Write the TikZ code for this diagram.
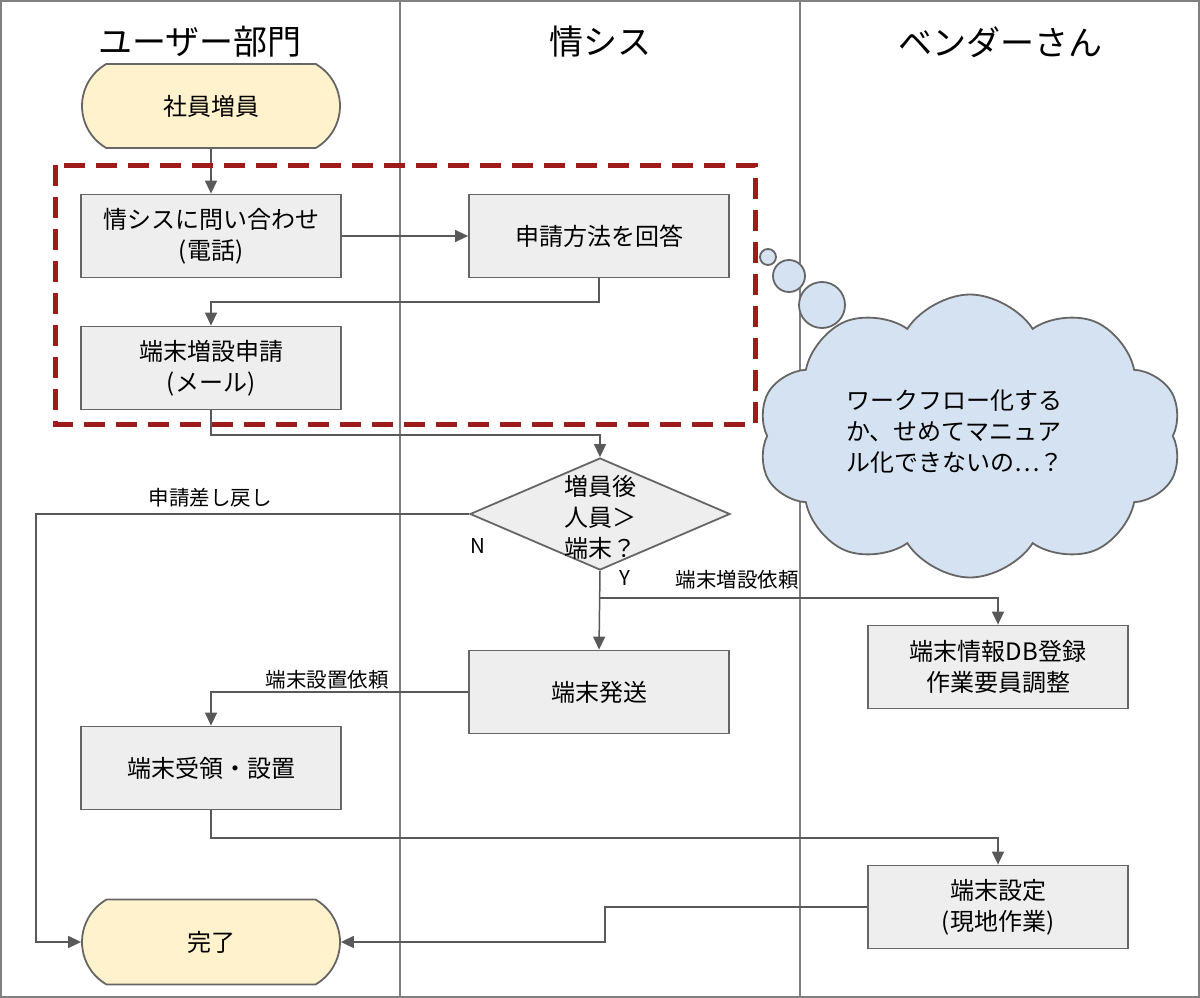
\documentclass[tikz,border=0pt]{standalone}
\usepackage{fontspec}
\setmainfont{Noto Sans CJK JP}
\usetikzlibrary{shapes.geometric,shapes.misc,shapes.symbols,arrows.meta}
\definecolor{lnc}{HTML}{595959}
\definecolor{bdc}{HTML}{666666}
\definecolor{boxfill}{HTML}{EEEEEE}
\definecolor{termfill}{HTML}{FFF2CC}
\definecolor{cloudfill}{HTML}{D5E2F1}
\definecolor{dashred}{HTML}{9C1B1B}
\definecolor{lanec}{HTML}{808080}
\tikzset{
  boxtxt/.style={font=\fontsize{24}{31}\selectfont, align=center},
  procbox/.style={boxtxt, draw=bdc, line width=1.8pt, fill=boxfill, minimum width=260pt, minimum height=83pt, inner sep=2pt},
  termbox/.style={boxtxt, rounded rectangle, rounded rectangle arc length=120, draw=bdc, line width=1.8pt, fill=termfill, minimum width=262pt, minimum height=84pt, inner sep=2pt},
  decbox/.style={diamond, draw=bdc, line width=1.8pt, fill=boxfill, minimum width=260pt, minimum height=112pt, inner sep=0pt},
  conn/.style={draw=lnc, line width=1.5pt},
  arr/.style={conn, -{Triangle[length=13pt,width=12pt]}},
  lbl/.style={font=\fontsize{20.5}{24}\selectfont, text=black, inner sep=1pt},
  hdr/.style={font=\fontsize{34}{40}\selectfont},
  cloudsty/.style={draw=bdc, line width=1.8pt, fill=cloudfill},
  lane/.style={draw=lanec, line width=1.8pt}
}
\begin{document}
\begin{tikzpicture}[x=1pt,y=-1pt]
\useasboundingbox (0,0) rectangle (1200,998);
\fill[white] (0,0) rectangle (1200,998);
% lanes
\draw[lane] (1,1) rectangle (1199,997);
\draw[lane] (400,0) -- (400,998);
\draw[lane] (800,0) -- (800,998);
\node[hdr] (h1) at (200,42) {ユーザー部門};
\node[hdr] (h2) at (600,42) {情シス};
\node[hdr] (h3) at (1000,42) {ベンダーさん};

% nodes
\node[termbox] (s1) at (211,106) {社員増員};
\node[procbox] (q1) at (211,236) {情シスに問い合わせ\\(電話)};
\node[procbox] (a1) at (599,236) {申請方法を回答};
\node[procbox] (r1) at (211,368) {端末増設申請\\(メール)};
\node[decbox] (d1) at (600,514) {};
\node[boxtxt, inner sep=0pt] (d1t) at (600,517) {増員後\\人員＞\\端末？};
\node[procbox] (ship) at (599,692) {端末発送};
\node[procbox] (vdb) at (998,667) {端末情報DB登録\\作業要員調整};
\node[procbox] (recv) at (211,768) {端末受領・設置};
\node[procbox] (vset) at (998,907) {端末設定\\(現地作業)};
\node[termbox, minimum height=85pt] (done) at (211,942) {完了};

% connectors
\draw[arr] (s1.south) -- (q1.north);
\draw[arr] (q1.east) -- (a1.west);
\draw[arr] (a1.south) -- (a1.south |- 0,302) -| (r1.north);
\draw[arr] (r1.south) -- (r1.south |- 0,435) -| (d1.north);
\draw[arr] (d1.west) -- (d1.west -| 36,0) |- (done.west);
\draw[arr] (d1.south) -- (ship.north);
\coordinate (yb) at (d1.south |- 0,598);
\draw[arr] (yb) -| (vdb.north);
\draw[arr] (ship.west) -| (recv.north);
\draw[arr] (recv.south) -- (recv.south |- 0,838) -| (vset.north);
\draw[arr] (vset.west) -- (vset.west -| 605,0) |- (done.east);

% labels
\node[lbl] (l1) at (210,498) {申請差し戻し};
\node[lbl] (lN) at (478,546) {N};
\node[lbl] (lY) at (625,578) {Y};
\node[lbl] (l2) at (737,580) {端末増設依頼};
\node[lbl] (l3) at (327,680) {端末設置依頼};

% dashed group
\draw[dashred, line width=5pt, dash pattern=on 21pt off 11pt] (55,165) rectangle (755,424);

% cloud
\node[cloud, cloudsty, cloud puffs=10, cloud puff arc=115, aspect=1.5, minimum width=424pt, minimum height=283pt] (cl) at (970,436) {};
\draw[cloudsty] (768,257) circle (8pt);
\draw[cloudsty] (789,276) circle (16pt);
\draw[cloudsty] (822,305) circle (23pt);
\node[boxtxt, align=left, anchor=west, inner sep=0pt] (clt) at (846,432) {ワークフロー化する\\か、せめてマニュア\\ル化できないの…？};
\end{tikzpicture}
\end{document}
